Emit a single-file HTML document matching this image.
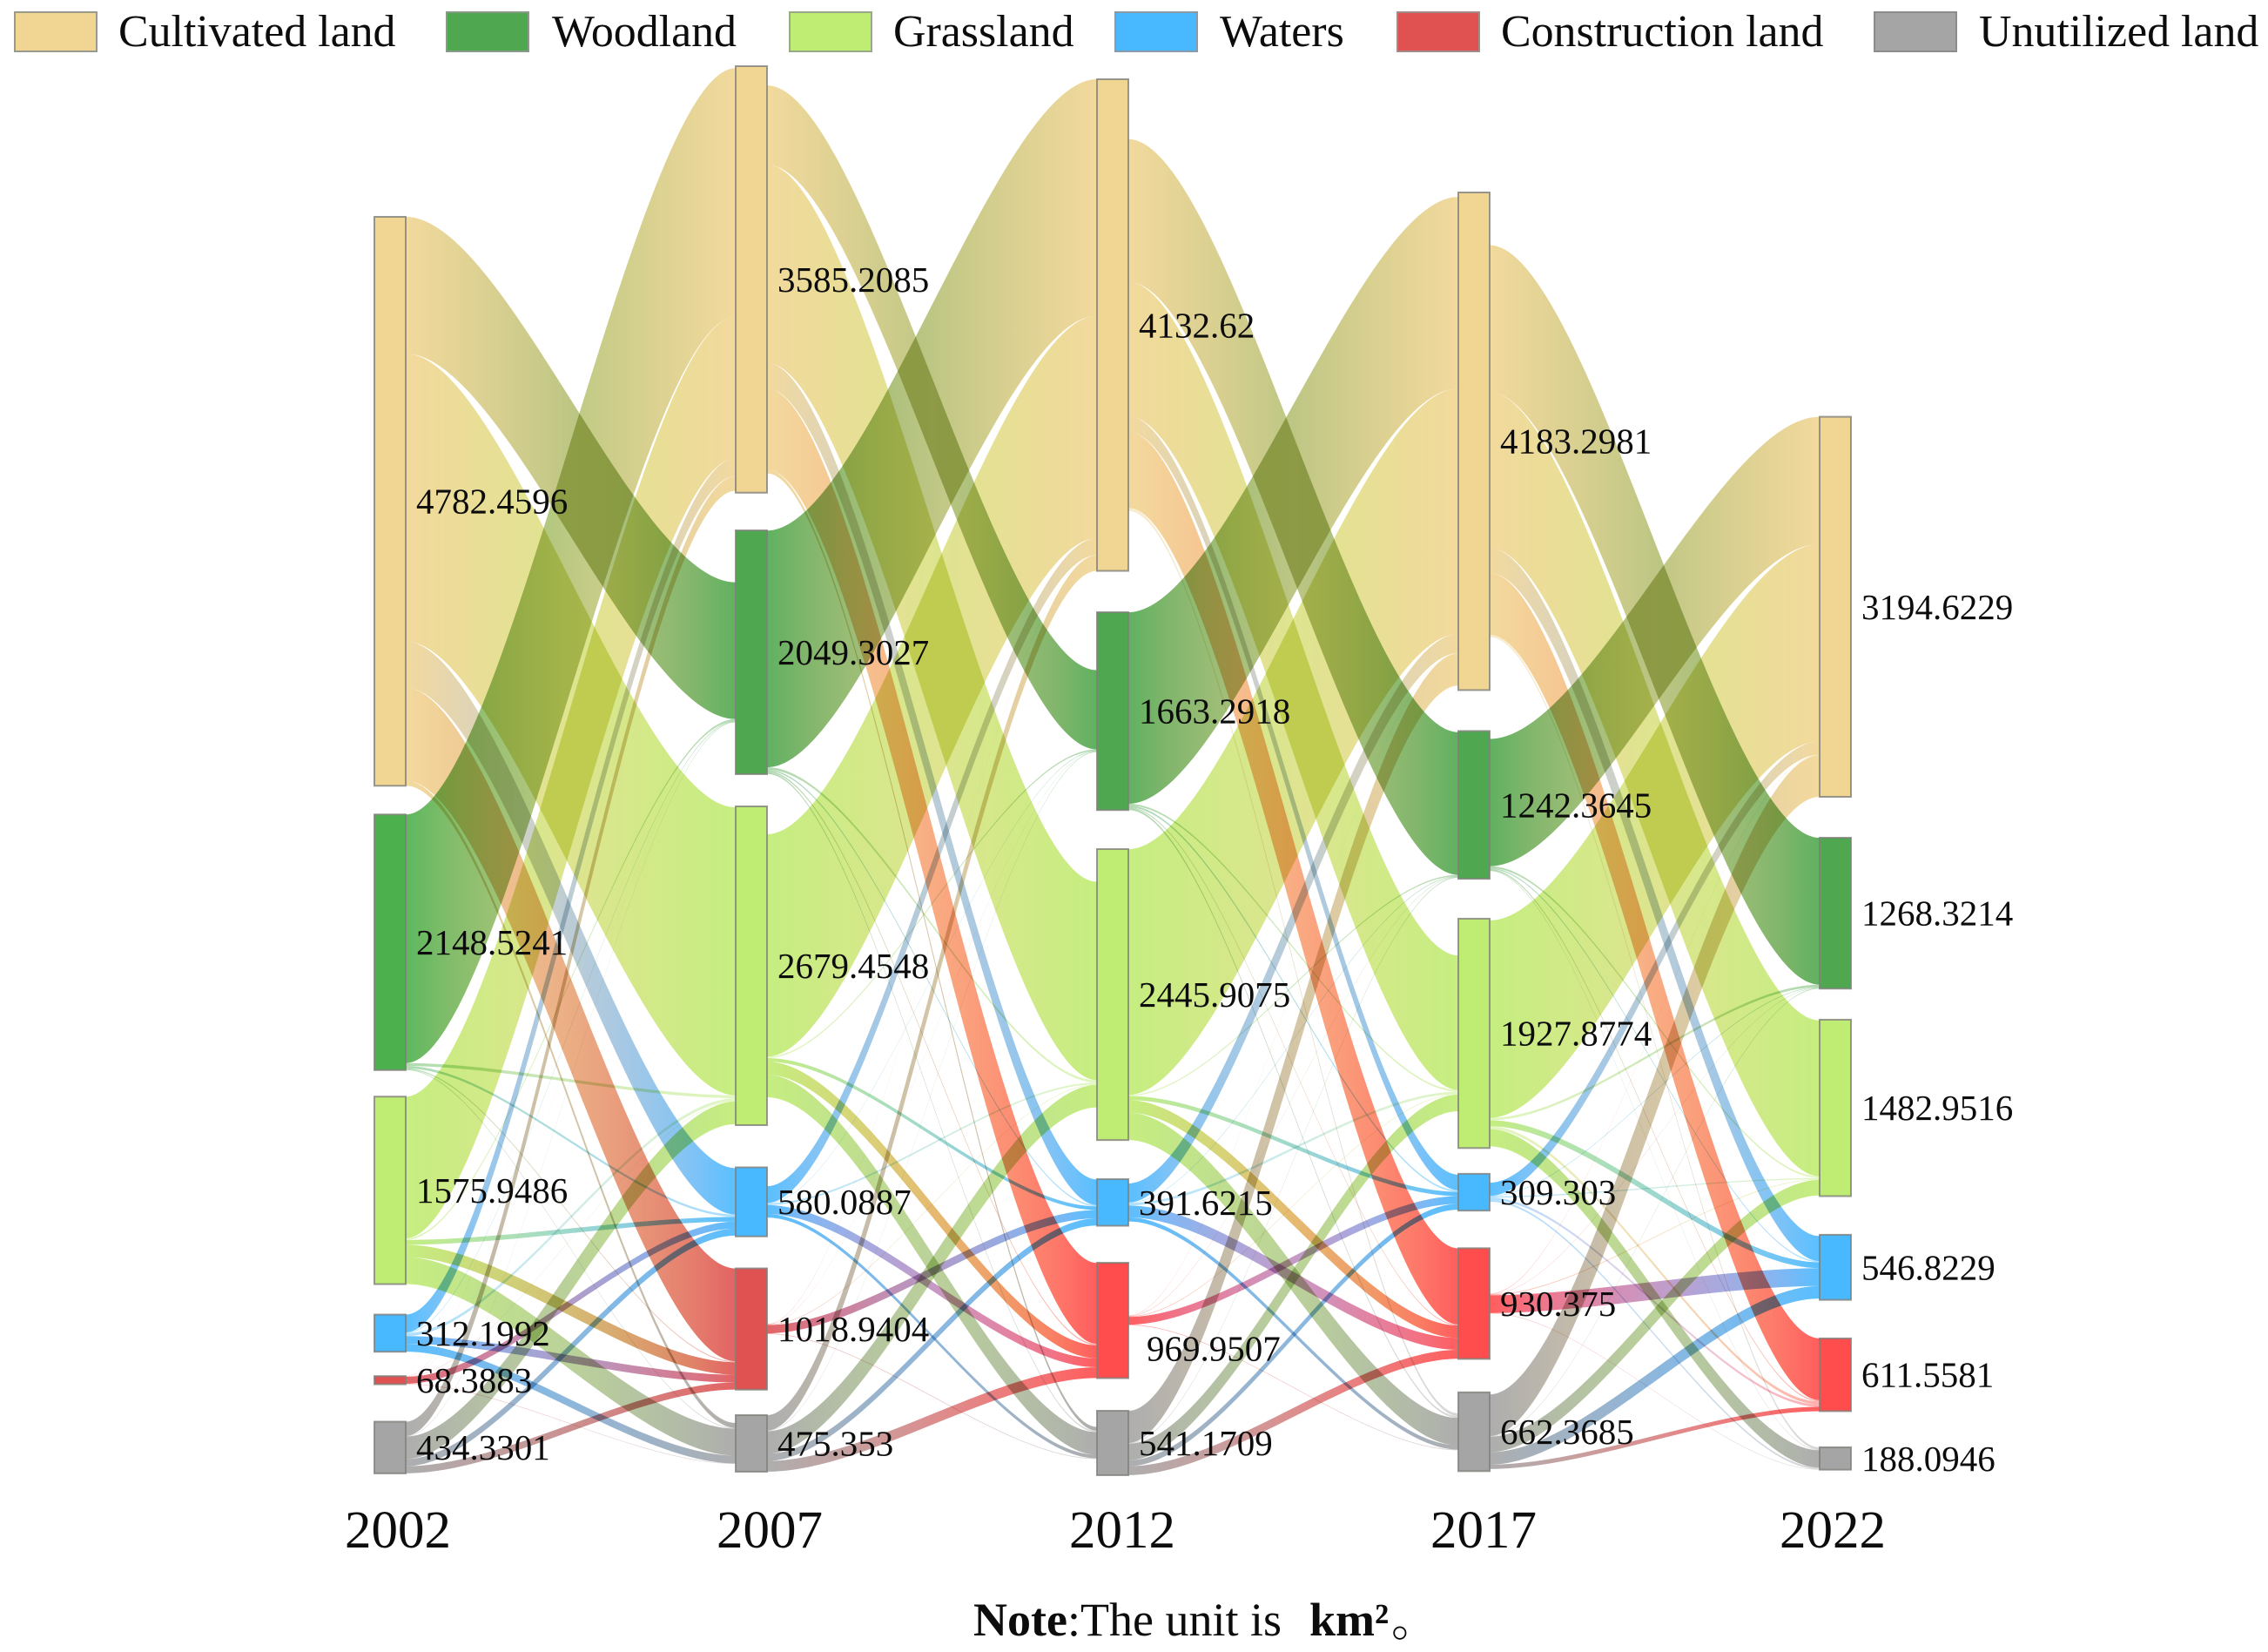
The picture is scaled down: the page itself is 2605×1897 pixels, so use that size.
<!DOCTYPE html>
<html lang="en">
<head>
<meta charset="utf-8">
<title>Land use transfer Sankey diagram 2002-2022</title>
<style>
  html, body { margin: 0; padding: 0; background: #ffffff; }
  #chart { display: block; width: 2605px; height: 1897px; background: #ffffff; isolation: isolate; }
  text { font-family: "Liberation Serif", "Noto Serif CJK SC", serif; fill: #0c0c0c; }
  .flow { mix-blend-mode: multiply; }
</style>
</head>
<body>
<svg id="chart" xmlns="http://www.w3.org/2000/svg" width="2605" height="1897" viewBox="0 0 2605 1897">
  <rect x="0" y="0" width="2605" height="1897" fill="#ffffff"/>
  <defs id="gradients"></defs>
  <g id="flows"></g>
  <g id="nodes"></g>
  <g id="labels"></g>

  <g>
    <g>
      <rect x="17" y="14" width="94" height="45" fill="#F1D592" stroke="#9a9a8c" stroke-width="2"/>
      <text x="136" y="53" font-size="51.9">Cultivated land</text>
    </g>
    <g>
      <rect x="513" y="14" width="94" height="45" fill="#4FA850" stroke="#8a9a8a" stroke-width="2"/>
      <text x="634" y="53" font-size="51.9">Woodland</text>
    </g>
    <g>
      <rect x="907" y="14" width="94" height="45" fill="#BFEC72" stroke="#9aa88a" stroke-width="2"/>
      <text x="1026" y="53" font-size="51.9">Grassland</text>
    </g>
    <g>
      <rect x="1281" y="14" width="94" height="45" fill="#48B8FF" stroke="#8a9aa8" stroke-width="2"/>
      <text x="1401" y="53" font-size="51.9">Waters</text>
    </g>
    <g>
      <rect x="1605" y="14" width="94" height="45" fill="#E05252" stroke="#a08a8a" stroke-width="2"/>
      <text x="1724" y="53" font-size="51.9">Construction land</text>
    </g>
    <g>
      <rect x="2153" y="14" width="94" height="45" fill="#A5A5A5" stroke="#8c8c8c" stroke-width="2"/>
      <text x="2273" y="53" font-size="51.9">Unutilized land</text>
    </g>
  </g>

  <text y="1878" font-size="54">
    <tspan x="1118" font-weight="700">Note</tspan><tspan x="1226">:</tspan><tspan x="1241">The unit is</tspan><tspan x="1504" font-weight="700">km²</tspan><tspan x="1598">。</tspan>
  </text>
</svg>

<script>
// ---------- Chart data ----------
const years = ['2002', '2007', '2012', '2017', '2022'];
const landTypes = ['Cultivated land', 'Woodland', 'Grassland', 'Waters', 'Construction land', 'Unutilized land'];

const areas2002 = [4782.4596, 2148.5241, 1575.9486, 312.1992, 68.3883, 434.3301];
const areas2007 = [3585.2085, 2049.3027, 2679.4548, 580.0887, 1018.9404, 475.353];
const areas2012 = [4132.62, 1663.2918, 2445.9075, 391.6215, 969.9507, 541.1709];
const areas2017 = [4183.2981, 1242.3645, 1927.8774, 309.303, 930.375, 662.3685];
const areas2022 = [3194.6229, 1268.3214, 1482.9516, 546.8229, 611.5581, 188.0946];

// Transfers: row = source land type, column = target land type (estimated from ribbon widths)
const flows2002to2007 = [
  [0, 1150, 2420, 390, 780, 42],
  [2090, 0, 25, 20, 8, 6],
  [1190, 15, 0, 40, 105, 226],
  [150, 6, 25, 0, 65, 66],
  [2, 1, 3, 58, 0, 4],
  [120, 4, 190, 60, 60, 0]
];
const flows2007to2012 = [
  [0, 666, 1668, 215, 680, 32],
  [1990, 0, 20, 12, 12, 12],
  [1870, 12, 0, 30, 110, 190],
  [140, 4, 15, 0, 75, 30],
  [3, 2, 4, 70, 0, 6],
  [130, 5, 190, 60, 90, 0]
];
const flows2012to2017 = [
  [0, 1200, 1130, 130, 640, 25],
  [1610, 0, 15, 15, 8, 15],
  [2065, 10, 0, 35, 105, 230],
  [160, 5, 20, 0, 100, 35],
  [3, 3, 5, 65, 0, 6],
  [270, 6, 140, 50, 75, 0]
];
const flows2017to2022 = [
  [0, 1235, 1310, 210, 520, 20],
  [1070, 0, 15, 10, 10, 5],
  [1660, 20, 0, 50, 25, 144],
  [110, 5, 10, 0, 20, 15],
  [4, 3, 6, 150, 0, 4],
  [350, 5, 130, 105, 37, 0]
];

// ---------- Layout constants (not data) ----------
const SVG_NS = 'http://www.w3.org/2000/svg';
const PX_PER_UNIT = 0.1366;
const NODE_WIDTH = 36;
const COLUMN_X0 = 430;
const COLUMN_STEP = 415;
const LABEL_GAP = 12;
const LABEL_FONT = 41;
const GRADIENT_STEPS = 8;
const RIBBON_CURVATURE = 0.3;
const layoutColumnStart = [249, 76, 91, 221, 478.6];
const layoutColumnSpacing = [
  [33, 30.5, 35, 28, 43],
  [43.3, 37, 48.5, 36.8, 29.3],
  [47.5, 44.8, 44.9, 42.5, 37.5],
  [47, 45.8, 29.6, 43.2, 38.4],
  [47, 35.7, 44.4, 44.3, 41.5]
];
const yearLabelCenters = [457, 884, 1289, 1704, 2105];
const YEAR_BASELINE = 1777;

const allAreas = [areas2002, areas2007, areas2012, areas2017, areas2022];
const allFlows = [flows2002to2007, flows2007to2012, flows2012to2017, flows2017to2022];

function slug(s) { return s.toLowerCase().replace(/\s+/g, '-'); }

function nodeColor(col, type) {
  if (type === 0) return '#F1D592';
  if (type === 1) return col === 0 ? '#4CB04D' : '#4FA850';
  if (type === 2) return '#BFEC72';
  if (type === 3) return '#48B8FF';
  if (type === 4) return col < 2 ? '#E05252' : '#FF4C4C';
  return '#A5A5A5';
}

// Ribbon colours blend in linear light, which keeps the lighter colour dominant
function toLinear(c) { return Math.pow(c / 255, 2.2); }
function toSrgb(c) { return Math.round(255 * Math.pow(c, 1 / 2.2)); }
function mixLinear(hexA, hexB, t) {
  const out = [1, 3, 5].map(function (i) {
    const a = toLinear(parseInt(hexA.substr(i, 2), 16));
    const b = toLinear(parseInt(hexB.substr(i, 2), 16));
    return toSrgb(a + (b - a) * t);
  });
  return 'rgb(' + out.join(',') + ')';
}

function columnX(col) { return COLUMN_X0 + col * COLUMN_STEP; }
function valueToPx(v) { return v * PX_PER_UNIT; }

// Stack nodes in every column
const nodeBoxes = allAreas.map(function (areas, col) {
  let y = layoutColumnStart[col];
  return areas.map(function (v, type) {
    if (type > 0) y += layoutColumnSpacing[col][type - 1];
    const box = { x: columnX(col), y: y, h: valueToPx(v) };
    y += box.h;
    return box;
  });
});

function sum(list) { return list.reduce(function (a, b) { return a + b; }, 0); }

const defs = document.getElementById('gradients');
const flowLayer = document.getElementById('flows');
const nodeLayer = document.getElementById('nodes');
const labelLayer = document.getElementById('labels');

// Flow ribbons: both ends are stacked and centred on their node
allFlows.forEach(function (matrix, period) {
  const left = nodeBoxes[period];
  const right = nodeBoxes[period + 1];
  const x0 = columnX(period) + NODE_WIDTH;
  const x1 = columnX(period + 1);
  const cx0 = x0 + (x1 - x0) * RIBBON_CURVATURE;
  const cx1 = x1 - (x1 - x0) * RIBBON_CURVATURE;

  const outCursor = matrix.map(function (row, s) {
    return left[s].y + (left[s].h - valueToPx(sum(row))) / 2;
  });
  const inCursor = landTypes.map(function (_, t) {
    const total = sum(matrix.map(function (row) { return row[t]; }));
    return right[t].y + (right[t].h - valueToPx(total)) / 2;
  });

  matrix.forEach(function (row, s) {
    row.forEach(function (value, t) {
      if (value <= 0) return;
      const w = valueToPx(value);
      const sy = outCursor[s];
      const ty = inCursor[t];
      outCursor[s] += w;
      inCursor[t] += w;

      const gid = 'flow-gradient-' + period + '-' + s + '-' + t;
      const grad = document.createElementNS(SVG_NS, 'linearGradient');
      grad.setAttribute('id', gid);
      grad.setAttribute('gradientUnits', 'userSpaceOnUse');
      grad.setAttribute('x1', x0);
      grad.setAttribute('x2', x1);
      grad.setAttribute('y1', 0);
      grad.setAttribute('y2', 0);
      for (let i = 0; i <= GRADIENT_STEPS; i++) {
        const t01 = i / GRADIENT_STEPS;
        const stop = document.createElementNS(SVG_NS, 'stop');
        stop.setAttribute('offset', t01);
        stop.setAttribute('stop-color', mixLinear(nodeColor(period, s), nodeColor(period + 1, t), t01));
        grad.appendChild(stop);
      }
      defs.appendChild(grad);

      const ribbon = document.createElementNS(SVG_NS, 'path');
      ribbon.setAttribute('d',
        'M' + x0 + ',' + sy +
        'C' + cx0 + ',' + sy + ' ' + cx1 + ',' + ty + ' ' + x1 + ',' + ty +
        'L' + x1 + ',' + (ty + w) +
        'C' + cx1 + ',' + (ty + w) + ' ' + cx0 + ',' + (sy + w) + ' ' + x0 + ',' + (sy + w) + 'Z');
      ribbon.setAttribute('fill', 'url(#' + gid + ')');
      ribbon.setAttribute('fill-opacity', value < 30 ? '0.45' : '0.9');
      ribbon.setAttribute('class', 'flow');
      
      
      flowLayer.appendChild(ribbon);
    });
  });
});

// Nodes and value labels
allAreas.forEach(function (areas, col) {
  areas.forEach(function (value, type) {
    const box = nodeBoxes[col][type];
    const rect = document.createElementNS(SVG_NS, 'rect');
    rect.setAttribute('x', box.x);
    rect.setAttribute('y', box.y);
    rect.setAttribute('width', NODE_WIDTH);
    rect.setAttribute('height', box.h);
    rect.setAttribute('fill', nodeColor(col, type));
    rect.setAttribute('stroke', '#7f7f7a');
    rect.setAttribute('stroke-opacity', '0.8');
    rect.setAttribute('stroke-width', '2');
    
    
    nodeLayer.appendChild(rect);

    // The 2012 construction-land label sits lower and slightly right in the source figure
    const shifted = col === 2 && type === 4;
    const label = document.createElementNS(SVG_NS, 'text');
    label.setAttribute('x', box.x + NODE_WIDTH + LABEL_GAP + (shifted ? 9 : 0));
    label.setAttribute('y', box.y + box.h / 2 + 14 + (shifted ? 32 : 0));
    label.setAttribute('font-size', LABEL_FONT);
    label.textContent = String(value);
    
    
    labelLayer.appendChild(label);
  });
});

// Year labels
years.forEach(function (year, col) {
  const yearLabel = document.createElementNS(SVG_NS, 'text');
  yearLabel.setAttribute('x', yearLabelCenters[col]);
  yearLabel.setAttribute('y', YEAR_BASELINE);
  yearLabel.setAttribute('text-anchor', 'middle');
  yearLabel.setAttribute('font-size', '61');
  yearLabel.textContent = year;
  
  
  labelLayer.appendChild(yearLabel);
});
</script>
</body>
</html>
